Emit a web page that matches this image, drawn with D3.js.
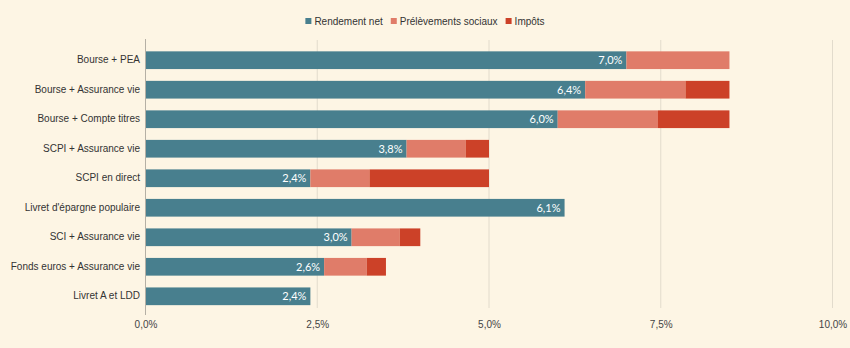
<!DOCTYPE html>
<html><head><meta charset="utf-8">
<script src="https://cdn.jsdelivr.net/npm/d3@7"></script>
<style>
html,body{margin:0;padding:0;background:#fdf5e4;}
svg{display:block;font-family:"Liberation Sans",Arial,sans-serif;}
</style></head>
<body><svg id="c" width="850" height="348"></svg>
<script>
const categories = ["Bourse + PEA","Bourse + Assurance vie","Bourse + Compte titres","SCPI + Assurance vie","SCPI en direct","Livret d'épargne populaire","SCI + Assurance vie","Fonds euros + Assurance vie","Livret A et LDD"];
const seriesNames = ["Rendement net","Prélèvements sociaux","Impôts"];
const rendementNet = [7.0,6.4,6.0,3.8,2.4,6.1,3.0,2.6,2.4];
const prelevementsSociaux = [1.5,1.46,1.46,0.86,0.86,0,0.7,0.62,0];
const impots = [0,0.64,1.04,0.34,1.74,0,0.3,0.28,0];
const tickValues = [0,2.5,5,7.5,10];
const colors = ["#487f8e","#e07c69","#cc4128"];

const svg = d3.select("#c");
const x = d3.scaleLinear().domain([0,10]).range([145.5,832.5]);
const y = d3.scaleBand().domain(categories).range([42.5,314]).paddingInner(0.4).paddingOuter(0.3);
const fmt = v => v.toFixed(1).replace(".",",")+"%";

// gridlines
svg.append("g").selectAll("line").data(tickValues.slice(1)).join("line")
  .attr("x1",d=>x(d)).attr("x2",d=>x(d)).attr("y1",40).attr("y2",308)
  .attr("stroke","#e2dbcc").attr("stroke-width",1);

const stackData = categories.map((c,i)=>({c, s0:rendementNet[i], s1:prelevementsSociaux[i], s2:impots[i]}));
const stack = d3.stack().keys(["s0","s1","s2"])(stackData);

svg.append("g").selectAll("g").data(stack).join("g")
  .attr("fill",(d,i)=>colors[i])
  .selectAll("rect").data(d=>d).join("rect")
  .attr("x",d=>x(d[0])).attr("width",d=>Math.max(0,x(d[1])-x(d[0])))
  .attr("y",d=>y(d.data.c)).attr("height",y.bandwidth());

// zero axis line
svg.append("line").attr("x1",x(0)).attr("x2",x(0)).attr("y1",39).attr("y2",315)
  .attr("stroke","#b5b0a5").attr("stroke-width",1);

// value labels
svg.append("g").selectAll("text").data(stackData).join("text")
  .attr("x",d=>x(d.s0)-4).attr("y",d=>y(d.c)+y.bandwidth()/2)
  .attr("dy","0.35em").attr("text-anchor","end")
  .attr("fill","#fff").attr("font-size",11).attr("font-family","Lato, sans-serif")
  .text(d=>fmt(d.s0));

// y axis labels
const yAxis = d3.axisLeft(y).tickSize(0).tickPadding(5);
const gy = svg.append("g").attr("transform",`translate(${x(0)-0.5},0)`).call(yAxis);
gy.select(".domain").remove();
gy.selectAll("text").attr("font-size",10).attr("fill","#333").attr("font-family","Liberation Sans, Arial, sans-serif");

// x axis labels
const xAxis = d3.axisBottom(x).tickValues(tickValues).tickSize(0).tickPadding(0).tickFormat(fmt);
const gx = svg.append("g").attr("transform","translate(0,321)").call(xAxis);
gx.select(".domain").remove();
gx.selectAll("text").attr("font-size",10).attr("fill","#444").attr("font-family","Liberation Sans, Arial, sans-serif");

// legend (laid out by measured widths, centred)
const lg = svg.append("g").attr("transform","translate(0,21)");
const items = lg.selectAll("g").data(seriesNames).join("g");
items.append("rect").attr("x",0).attr("y",-3).attr("width",6).attr("height",6).attr("fill",(d,i)=>colors[i]);
items.append("text").attr("x",9).attr("dy","0.35em").attr("font-size",10).attr("fill","#333").text(d=>d);
let widths = [];
items.each(function(){ widths.push(9 + this.querySelector("text").getComputedTextLength()); });
const gap = 8;
const total = d3.sum(widths) + gap*(widths.length-1);
let cx = 425 - total/2;
items.attr("transform",(d,i)=>{ const t=`translate(${cx},0)`; cx += widths[i]+gap; return t; });
</script>
</body></html>
